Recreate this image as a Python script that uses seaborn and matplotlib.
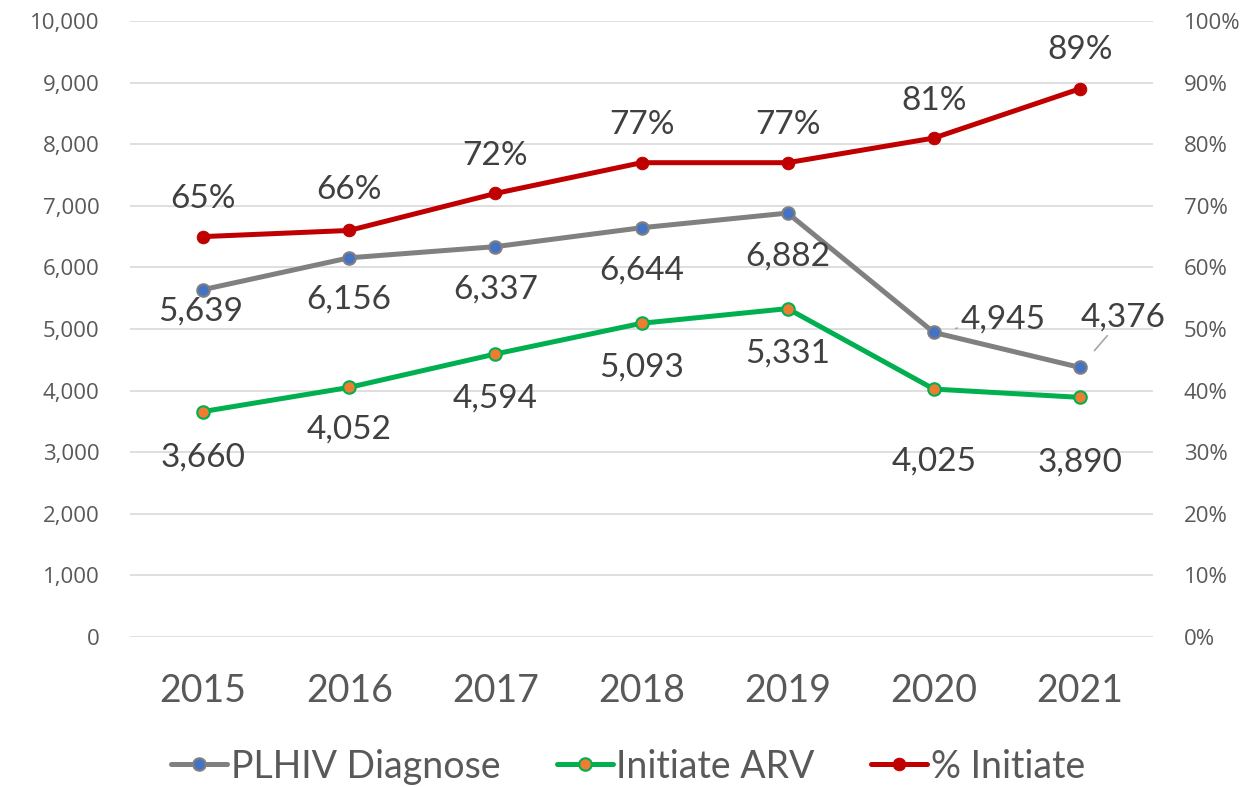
import matplotlib.pyplot as plt
import seaborn as sns
import pandas as pd
from matplotlib.ticker import FuncFormatter, MultipleLocator

years = [2015, 2016, 2017, 2018, 2019, 2020, 2021]
plhiv = [5639, 6156, 6337, 6644, 6882, 4945, 4376]
initiate = [3660, 4052, 4594, 5093, 5331, 4025, 3890]
pct = [65, 66, 72, 77, 77, 81, 89]

# label offsets in points (dx, dy)
plhiv_off = [(-2, -16), (0, -30), (0, -31), (0, -31), (0, -31), (50, 9), (31, 36)]
init_off = [(0, -33), (0, -30), (0, -32), (0, -32), (0, -32), (0, -52), (0, -47)]
pct_off = [(0, 27), (0, 29), (0, 27), (0, 27), (0, 27), (0, 27), (0, 28)]

df = pd.DataFrame({"year": years, "plhiv": plhiv, "initiate": initiate, "pct": pct})

sns.set_style("white")
plt.rcParams["font.family"] = ["Lato", "DejaVu Sans"]
txt = "#404040"
tick_c = "#595959"

fig = plt.figure(figsize=(12.56, 7.87), dpi=100)
ax = fig.add_axes([0.1035, 0.1906, 0.8145, 0.7827])
ax2 = ax.twinx()

sns.lineplot(data=df, x="year", y="plhiv", ax=ax, color="#808080", lw=3.6,
             marker="o", markersize=9, markerfacecolor="#4472C4",
             markeredgecolor="#808080", markeredgewidth=1.5, label="PLHIV Diagnose", legend=False)
sns.lineplot(data=df, x="year", y="initiate", ax=ax, color="#00B050", lw=3.6,
             marker="o", markersize=9, markerfacecolor="#ED7D31",
             markeredgecolor="#00B050", markeredgewidth=1.5, label="Initiate ARV", legend=False)
sns.lineplot(data=df, x="year", y="pct", ax=ax2, color="#C00000", lw=3.6,
             marker="o", markersize=9, markerfacecolor="#C00000",
             markeredgecolor="#C00000", label="% Initiate", legend=False)

ax.set_xlim(2014.5, 2021.5)
ax.set_ylim(0, 10000)
ax2.set_ylim(0, 100)
ax.yaxis.set_major_locator(MultipleLocator(1000))
ax2.yaxis.set_major_locator(MultipleLocator(10))
ax.yaxis.set_major_formatter(FuncFormatter(lambda v, p: f"{int(v):,}"))
ax2.yaxis.set_major_formatter(FuncFormatter(lambda v, p: f"{int(v)}%"))
ax.set_xticks(years)
ax.set_xticklabels([str(y) for y in years])
ax.grid(axis="y", color="#d9d9d9", lw=1.2)
ax.set_axisbelow(True)
ax.set_xlabel("")
ax.set_ylabel("")
ax2.set_ylabel("")
for a in (ax, ax2):
    for s in a.spines.values():
        s.set_visible(False)
ax.tick_params(axis="y", length=0, labelsize=16, labelcolor=tick_c, pad=22)
ax2.tick_params(axis="y", length=0, labelsize=16, labelcolor=tick_c, pad=22)
for lab in ax.get_yticklabels() + ax2.get_yticklabels():
    lab.set_family(["Open Sans", "DejaVu Sans"])
ax.tick_params(axis="x", length=0, labelsize=27, labelcolor=tick_c, pad=26)

for i, y in enumerate(years):
    dx, dy = plhiv_off[i]
    arrow = None
    if i >= 5:
        arrow = dict(arrowstyle="-", color="#a6a6a6", lw=1.2, shrinkA=0, shrinkB=16)
    ax.annotate(f"{plhiv[i]:,}", (y, plhiv[i]), xytext=(dx, dy), textcoords="offset points",
                ha="center", va="center", fontsize=24, color=txt, arrowprops=arrow)
    dx, dy = init_off[i]
    ax.annotate(f"{initiate[i]:,}", (y, initiate[i]), xytext=(dx, dy), textcoords="offset points",
                ha="center", va="center", fontsize=24, color=txt)
    dx, dy = pct_off[i]
    ax2.annotate(f"{pct[i]}%", (y, pct[i]), xytext=(dx, dy), textcoords="offset points",
                 ha="center", va="center", fontsize=24, color=txt)

handles = ax.get_lines()[:2] + ax2.get_lines()[:1]
fig.legend(handles, ["PLHIV Diagnose", "Initiate ARV", "% Initiate"], loc="center",
           bbox_to_anchor=(0.5, 0.026), ncol=3, frameon=False, fontsize=27,
           labelcolor=tick_c, handlelength=1.5, handletextpad=0.1, columnspacing=1.5)

fig.savefig("out.png", dpi=100)
